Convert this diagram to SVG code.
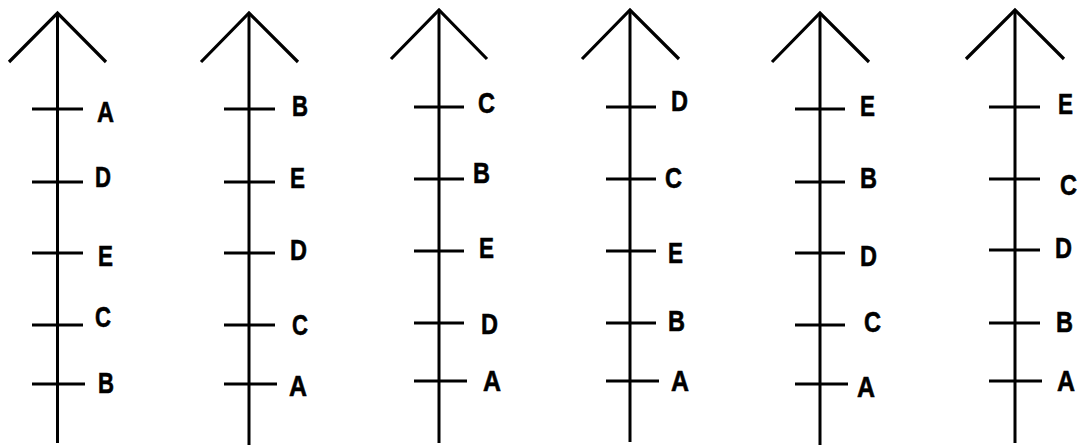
<svg xmlns="http://www.w3.org/2000/svg" width="1081" height="447" viewBox="0 0 1081 447">
<style>
.ax{stroke:#000;stroke-width:3;fill:none;stroke-linecap:butt}
.hd{stroke:#000;stroke-width:3.2;fill:none;stroke-linejoin:miter}
.tk{stroke:#000;stroke-width:2.8;fill:none}
.lb{font-family:"Liberation Sans",Arial,sans-serif;font-weight:bold;font-size:30px;fill:#000;stroke:#000;stroke-width:0.6}
</style>
<rect width="1081" height="447" fill="#fff"/>
<g id="connectors">
<line class="ax" x1="57.5" y1="13" x2="57.5" y2="443"/>
<polyline class="hd" points="9,62 57.5,13 106,62"/>
<line class="ax" x1="249" y1="13" x2="249" y2="445"/>
<polyline class="hd" points="201,62 249,13 298,62"/>
<line class="ax" x1="439" y1="10" x2="439" y2="443"/>
<polyline class="hd" points="391,59 439,10 487,59"/>
<line class="ax" x1="630" y1="10" x2="630" y2="442"/>
<polyline class="hd" points="582,59 630,10 679,59"/>
<line class="ax" x1="820" y1="13" x2="820" y2="445"/>
<polyline class="hd" points="772,62 820,13 869,62"/>
<line class="ax" x1="1015" y1="10" x2="1015" y2="443"/>
<polyline class="hd" points="966,59 1015,10 1064,59"/>
</g>
<g id="axis1">
<line class="tk" x1="32" y1="109" x2="83" y2="109"/>
<line class="tk" x1="32" y1="182" x2="83" y2="182"/>
<line class="tk" x1="32" y1="253" x2="83" y2="253"/>
<line class="tk" x1="32" y1="325" x2="83" y2="325"/>
<line class="tk" x1="32" y1="384" x2="85" y2="384"/>
<text class="lb" x="97" y="122" textLength="17" lengthAdjust="spacingAndGlyphs">A</text>
<text class="lb" x="95" y="187" textLength="16" lengthAdjust="spacingAndGlyphs">D</text>
<text class="lb" x="98" y="266" textLength="15" lengthAdjust="spacingAndGlyphs">E</text>
<text class="lb" x="95" y="327" textLength="16" lengthAdjust="spacingAndGlyphs">C</text>
<text class="lb" x="98" y="393" textLength="16" lengthAdjust="spacingAndGlyphs">B</text>
</g>
<g id="axis2">
<line class="tk" x1="224" y1="109" x2="275" y2="109"/>
<line class="tk" x1="224" y1="182" x2="275" y2="182"/>
<line class="tk" x1="224" y1="253" x2="275" y2="253"/>
<line class="tk" x1="224" y1="325" x2="275" y2="325"/>
<line class="tk" x1="224" y1="384" x2="277" y2="384"/>
<text class="lb" x="292" y="116" textLength="16" lengthAdjust="spacingAndGlyphs">B</text>
<text class="lb" x="290" y="188" textLength="15" lengthAdjust="spacingAndGlyphs">E</text>
<text class="lb" x="290" y="260" textLength="17" lengthAdjust="spacingAndGlyphs">D</text>
<text class="lb" x="292" y="335" textLength="16" lengthAdjust="spacingAndGlyphs">C</text>
<text class="lb" x="289" y="396" textLength="18" lengthAdjust="spacingAndGlyphs">A</text>
</g>
<g id="axis3">
<line class="tk" x1="414" y1="107" x2="464" y2="107"/>
<line class="tk" x1="414" y1="179" x2="464" y2="179"/>
<line class="tk" x1="414" y1="251" x2="464" y2="251"/>
<line class="tk" x1="414" y1="323" x2="464" y2="323"/>
<line class="tk" x1="414" y1="381" x2="467" y2="381"/>
<text class="lb" x="478" y="113" textLength="17" lengthAdjust="spacingAndGlyphs">C</text>
<text class="lb" x="473" y="183" textLength="17" lengthAdjust="spacingAndGlyphs">B</text>
<text class="lb" x="479" y="258" textLength="15" lengthAdjust="spacingAndGlyphs">E</text>
<text class="lb" x="481" y="334" textLength="17" lengthAdjust="spacingAndGlyphs">D</text>
<text class="lb" x="483" y="391" textLength="18" lengthAdjust="spacingAndGlyphs">A</text>
</g>
<g id="axis4">
<line class="tk" x1="606" y1="107" x2="656" y2="107"/>
<line class="tk" x1="606" y1="179" x2="656" y2="179"/>
<line class="tk" x1="606" y1="251" x2="656" y2="251"/>
<line class="tk" x1="606" y1="323" x2="656" y2="323"/>
<line class="tk" x1="606" y1="381" x2="659" y2="381"/>
<text class="lb" x="671" y="111" textLength="17" lengthAdjust="spacingAndGlyphs">D</text>
<text class="lb" x="665" y="188" textLength="17" lengthAdjust="spacingAndGlyphs">C</text>
<text class="lb" x="668" y="263" textLength="15" lengthAdjust="spacingAndGlyphs">E</text>
<text class="lb" x="668" y="331" textLength="17" lengthAdjust="spacingAndGlyphs">B</text>
<text class="lb" x="671" y="391" textLength="18" lengthAdjust="spacingAndGlyphs">A</text>
</g>
<g id="axis5">
<line class="tk" x1="795" y1="109" x2="845" y2="109"/>
<line class="tk" x1="795" y1="182" x2="845" y2="182"/>
<line class="tk" x1="795" y1="253" x2="845" y2="253"/>
<line class="tk" x1="795" y1="325" x2="845" y2="325"/>
<line class="tk" x1="795" y1="384" x2="848" y2="384"/>
<text class="lb" x="860" y="116" textLength="15" lengthAdjust="spacingAndGlyphs">E</text>
<text class="lb" x="860" y="188" textLength="17" lengthAdjust="spacingAndGlyphs">B</text>
<text class="lb" x="860" y="266" textLength="17" lengthAdjust="spacingAndGlyphs">D</text>
<text class="lb" x="864" y="332" textLength="17" lengthAdjust="spacingAndGlyphs">C</text>
<text class="lb" x="857" y="397" textLength="18" lengthAdjust="spacingAndGlyphs">A</text>
</g>
<g id="axis6">
<line class="tk" x1="989" y1="107" x2="1040" y2="107"/>
<line class="tk" x1="989" y1="179" x2="1040" y2="179"/>
<line class="tk" x1="989" y1="250" x2="1040" y2="250"/>
<line class="tk" x1="989" y1="323" x2="1040" y2="323"/>
<line class="tk" x1="989" y1="381" x2="1042" y2="381"/>
<text class="lb" x="1058" y="114" textLength="15" lengthAdjust="spacingAndGlyphs">E</text>
<text class="lb" x="1060" y="195" textLength="17" lengthAdjust="spacingAndGlyphs">C</text>
<text class="lb" x="1055" y="258" textLength="17" lengthAdjust="spacingAndGlyphs">D</text>
<text class="lb" x="1056" y="332" textLength="17" lengthAdjust="spacingAndGlyphs">B</text>
<text class="lb" x="1057" y="391" textLength="18" lengthAdjust="spacingAndGlyphs">A</text>
</g>
</svg>
